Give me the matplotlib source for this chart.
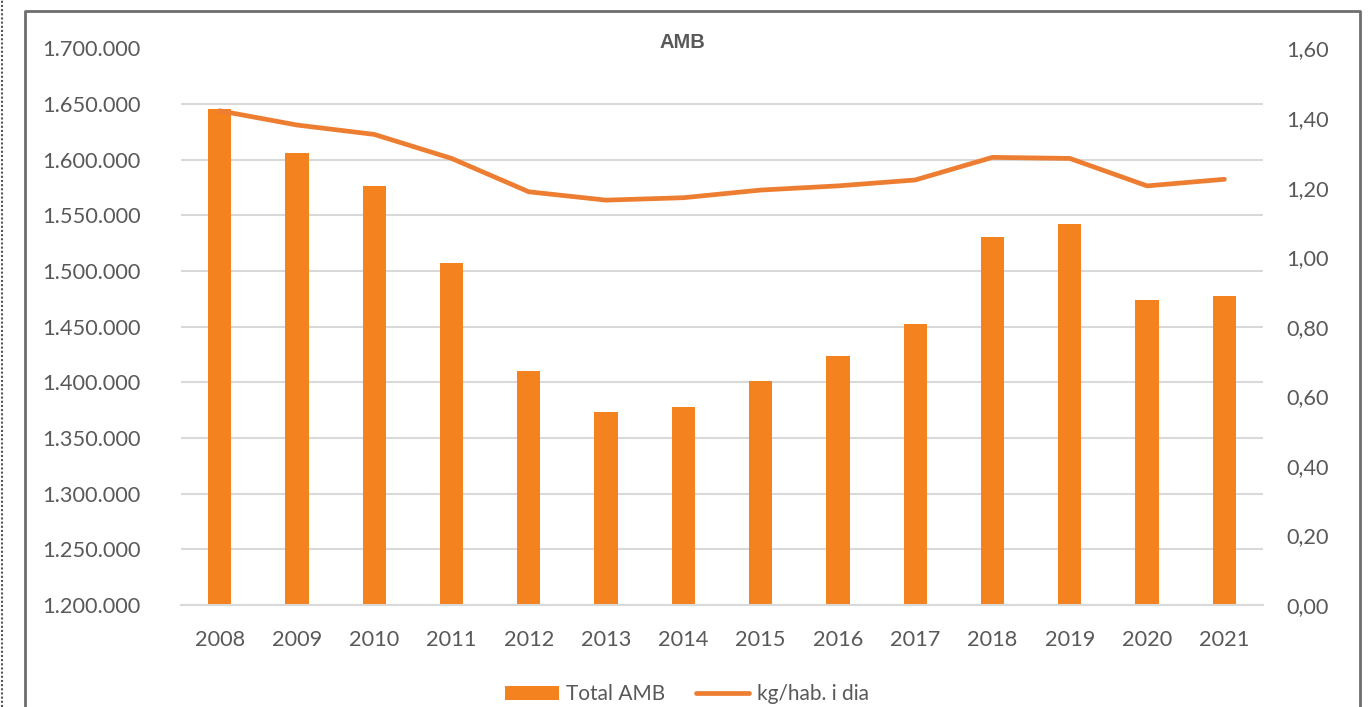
import matplotlib
matplotlib.use('Agg')
import matplotlib.pyplot as plt
from matplotlib.lines import Line2D
from matplotlib.ticker import FuncFormatter, MultipleLocator
import numpy as np

years = ['2008', '2009', '2010', '2011', '2012', '2013', '2014',
         '2015', '2016', '2017', '2018', '2019', '2020', '2021']
total_amb = [1646000, 1606200, 1576300, 1507500, 1409900, 1373700, 1377500,
             1401500, 1423400, 1452700, 1530900, 1542000, 1473700, 1477500]
kg_hab_dia = [1.421, 1.380, 1.353, 1.284, 1.188, 1.164, 1.171,
              1.193, 1.205, 1.222, 1.287, 1.284, 1.205, 1.224]

W, H = 1371, 707
bar_color = '#F4821F'
line_color = '#ED7D31'
text_color = '#595959'
grid_color = '#D9D9D9'

fig = plt.figure(figsize=(W / 100, H / 100), dpi=100)
ax = fig.add_axes([181 / W, 1 - 605 / H, (1263 - 181) / W, (605 - 48.5) / H])
ax2 = ax.twinx()

x = np.arange(len(years))
bars = ax.bar(x, total_amb, width=0.30, color=bar_color, zorder=2, label='Total AMB')
line, = ax2.plot(x, kg_hab_dia, color=line_color, lw=3.4, solid_capstyle='round',
                 solid_joinstyle='round', label='kg/hab. i dia')

ax.set_xlim(-0.5, len(years) - 0.5)
ax.set_ylim(1200000, 1700000)
ax.yaxis.set_major_locator(MultipleLocator(50000))
ax.yaxis.set_major_formatter(FuncFormatter(lambda v, p: f'{int(v):,}'.replace(',', '.')))
ax2.set_ylim(0, 1.6)
ax2.yaxis.set_major_locator(MultipleLocator(0.2))
ax2.yaxis.set_major_formatter(FuncFormatter(lambda v, p: f'{v:.2f}'.replace('.', ',')))

ax.set_xticks(x)
ax.set_xticklabels(years)
ax.grid(axis='y', color=grid_color, lw=1.5, zorder=0)
ax.set_axisbelow(True)

for a in (ax, ax2):
    for s in a.spines.values():
        s.set_visible(False)
    a.tick_params(length=0, colors=text_color, labelsize=15.7)
    for lab in a.get_xticklabels() + a.get_yticklabels():
        lab.set_fontfamily('Lato')
ax.spines['bottom'].set_visible(True)
ax.spines['bottom'].set_color(grid_color)
ax.spines['bottom'].set_linewidth(1.5)
ax.tick_params(axis='y', pad=29)
ax.tick_params(axis='x', pad=18)
ax2.tick_params(axis='y', pad=17)

fig.text(682 / W, 1 - 42 / H, 'AMB', ha='center', va='center', fontsize=14.5,
         fontweight='bold', color=text_color, family='Liberation Sans',
         bbox=dict(facecolor='white', edgecolor='none', pad=5))

fig.legend([bars, line], ['Total AMB', 'kg/hab. i dia'], loc='center',
           bbox_to_anchor=(687 / W, 1 - 694 / H), ncol=2, frameon=False,
           prop={'family': 'Lato', 'size': 15}, labelcolor=text_color,
           handlelength=2.55, handleheight=0.65, handletextpad=0.35,
           columnspacing=1.5)

# chart frame and dotted page edge
fig.add_artist(Line2D([25 / W, 25 / W, 1360 / W, 1360 / W],
                      [0, 1 - 11 / H, 1 - 11 / H, 0],
                      color='#6E6E6E', lw=2, transform=fig.transFigure))
fig.add_artist(Line2D([1.5 / W, 1.5 / W], [0, 1], color='#555555', lw=1.5,
                      linestyle=(0, (1, 1)), transform=fig.transFigure))

fig.savefig('out.png', dpi=100)
